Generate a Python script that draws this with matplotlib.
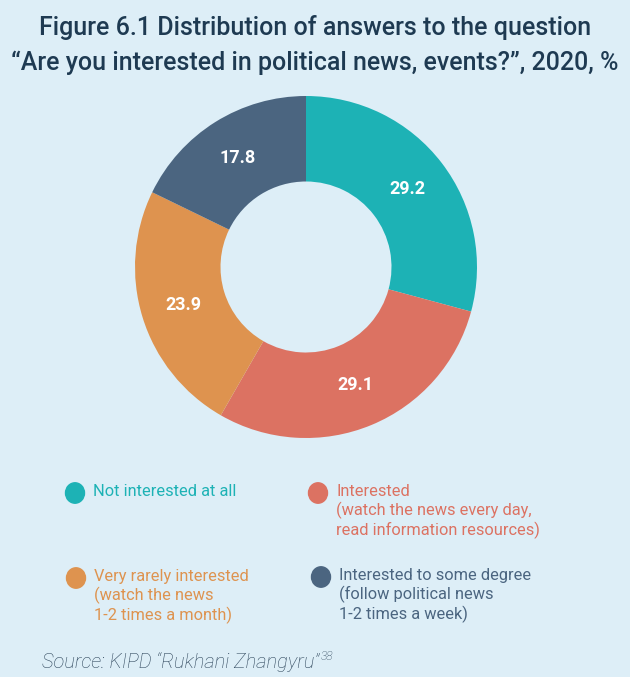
import matplotlib.pyplot as plt
import numpy as np

# --- data ---
labels = ['Not interested at all',
          'Interested\n(watch the news every day,\nread information resources)',
          'Very rarely interested\n(watch the news\n1-2 times a month)',
          'Interested to some degree\n(follow political news\n1-2 times a week)']
values = [29.2, 29.1, 23.9, 17.8]
colors = ['#1DB2B5', '#DC7262', '#DE934F', '#4B6580']

bg = '#DDEEF7'
W, H = 630, 677
fig = plt.figure(figsize=(W / 100, H / 100), dpi=100, facecolor=bg)
plt.rcParams['font.family'] = ['Roboto', 'DejaVu Sans']

# title
fig.text(0.5, 1 - 27 / H, 'Figure 6.1 Distribution of answers to the question',
         ha='center', va='center', fontsize=18, color='#1E3A52', fontweight='medium')
fig.text(0.5, 1 - 63 / H, '\u201cAre you interested in political news, events?\u201d, 2020, %',
         ha='center', va='center', fontsize=18, color='#1E3A52', fontweight='medium')

# donut
cx, cy, r = 306, 267, 171
ax = fig.add_axes([(cx - r) / W, 1 - (cy + r) / H, 2 * r / W, 2 * r / H])
ax.set_facecolor(bg)
wedges, _ = ax.pie(values, colors=colors, startangle=90, counterclock=False,
                   radius=1, wedgeprops=dict(width=0.5, edgecolor='none'))
for w, v in zip(wedges, values):
    ang = np.deg2rad((w.theta1 + w.theta2) / 2)
    ax.text(0.75 * np.cos(ang), 0.75 * np.sin(ang), f'{v:.1f}', ha='center', va='center',
            color='white', fontsize=13, fontweight='bold')
ax.set_xlim(-1, 1)
ax.set_ylim(-1, 1)
ax.set_aspect('equal')
ax.axis('off')

# legend
pos = [(75, 493), (318, 493), (76, 578), (321, 577)]
for (px, py), lab, c in zip(pos, labels, colors):
    fig.patches.append(plt.Circle((px / W, 1 - py / H), 9.5 / W, transform=fig.transFigure,
                                  color=c))
    fig.text((px + 18) / W, 1 - (py - 9) / H, lab, ha='left', va='top', fontsize=11.8,
             color=c, linespacing=1.2)

src = fig.text(42 / W, 1 - 662 / H, 'Source: KIPD \u201cRukhani Zhangyru\u201d',
               ha='left', va='center', fontsize=14.5, color='#2A4258', style='italic',
               fontweight='light')
fig.canvas.draw()
bb = src.get_window_extent()
fig.text(bb.x1 / W + 1 / W, 1 - 656 / H, '38', ha='left', va='center', fontsize=8.5,
         color='#2A4258', style='italic', fontweight='light')

fig.savefig('out.png', dpi=100, facecolor=bg)
